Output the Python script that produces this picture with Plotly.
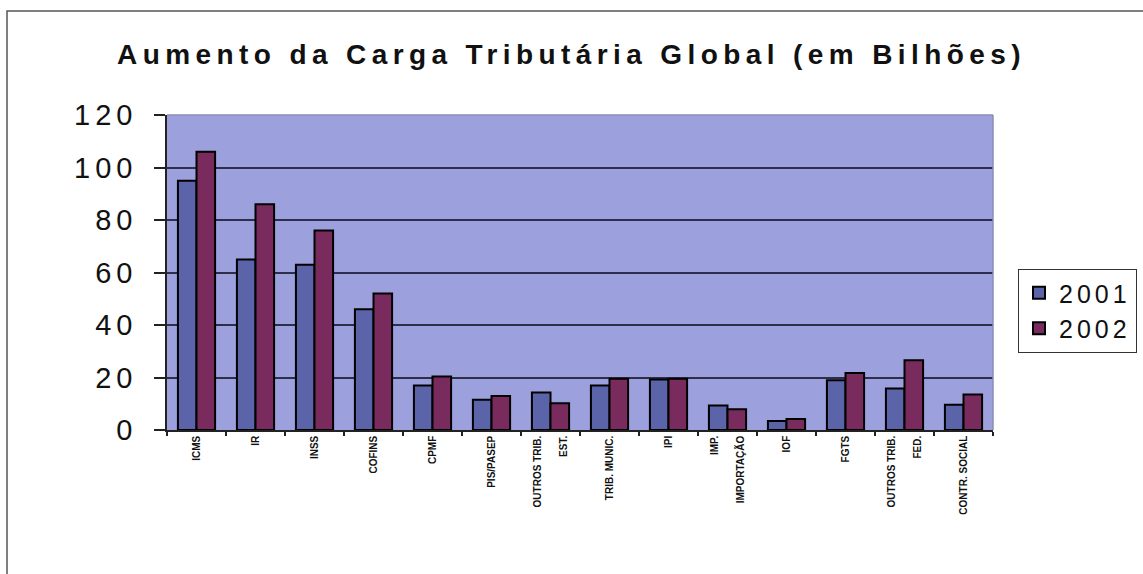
import plotly.graph_objects as go

categories = ["ICMS", "IR", "INSS", "COFINS", "CPMF", "PIS/PASEP",
              "OUTROS TRIB.<br><br>EST.", "TRIB. MUNIC.", "IPI",
              "IMP.<br><br>IMPORTAÇÃO", "IOF", "FGTS",
              "OUTROS TRIB.<br><br>FED.", "CONTR. SOCIAL"]
values_2001 = [95, 65, 63, 46, 17, 11.5, 14.3, 17, 19.2, 9.3, 3.4, 19, 15.8, 9.6]
values_2002 = [106, 86, 76, 52, 20.4, 13, 10.2, 19.5, 19.5, 7.9, 4.2, 21.7, 26.6, 13.5]
series_names = ["2001", "2002"]
y_ticks = [0, 20, 40, 60, 80, 100, 120]
title_text = "Aumento da Carga Tributária Global (em Bilhões)"

W, H = 1143, 574
L, R, T, B = 167, 150, 115, 144
pw, ph = W - L - R, H - T - B

FONT = "Arial, Liberation Sans, sans-serif"

fig = go.Figure()
fig.add_trace(go.Bar(name=series_names[0], x=categories, y=values_2001,
                     marker=dict(color="#5c64a9", line=dict(color="#000000", width=2))))
fig.add_trace(go.Bar(name=series_names[1], x=categories, y=values_2002,
                     marker=dict(color="#7a2b5d", line=dict(color="#000000", width=2))))


def px_x(p):
    return (p - L) / pw


def px_y(p):
    return (H - B - p) / ph


shapes = [
    dict(type="rect", xref="paper", yref="paper",
         x0=px_x(7), x1=px_x(W + 20), y0=px_y(H + 20), y1=px_y(11),
         line=dict(color="#555555", width=1.5), fillcolor="rgba(0,0,0,0)", layer="below"),
    dict(type="line", xref="paper", yref="paper", x0=0, x1=1, y0=1, y1=1,
         line=dict(color="#8c8cb8", width=1.5)),
    dict(type="line", xref="paper", yref="paper", x0=1, x1=1, y0=0, y1=1,
         line=dict(color="#8c8cb8", width=1.5)),
]

fig.update_layout(
    width=W, height=H,
    margin=dict(l=L, r=R, t=T, b=B, autoexpand=False),
    paper_bgcolor="#ffffff",
    plot_bgcolor="#9ca0dc",
    barmode="group", bargap=0.37, bargroupgap=0,
    title=dict(text=title_text, x=0.5, xanchor="center", y=1 - 54 / H, yanchor="middle",
               font=dict(family=FONT, size=28, color="#111111", weight="bold")),
    font=dict(family=FONT, color="#111111"),
    showlegend=True,
    legend=dict(x=px_x(1018), xanchor="left", y=px_y(311), yanchor="middle",
                bgcolor="#ffffff", bordercolor="#333333", borderwidth=1,
                font=dict(family=FONT, size=25, color="#111111"),
                itemwidth=30, tracegroupgap=0),
    shapes=shapes,
)

fig.update_xaxes(showline=True, linecolor="#222222", linewidth=1.5,
                 ticks="outside", ticklen=4, tickcolor="#222222", tickwidth=1.5,
                 tickson="boundaries", tickangle=-90,
                 tickfont=dict(family=FONT, size=10, color="#111111", weight="bold"),
                 showgrid=False)
fig.update_yaxes(range=[0, 120], tickvals=y_ticks, showline=True, linecolor="#222222",
                 linewidth=1.5, ticks="outside", ticklen=11, tickcolor="#222222",
                 tickwidth=1.5, showgrid=True, gridcolor="#2e2e4a", gridwidth=1.5,
                 zeroline=False, ticklabelstandoff=11,
                 tickfont=dict(family=FONT, size=29, color="#111111"))

post = """
var gd = document.getElementById('{plot_id}');
var st = document.createElement('style');
st.textContent = 'html,body{margin:0;padding:0;} .gtitle{letter-spacing:5.4px;} .ytick text{letter-spacing:5px;} .legendtext{letter-spacing:4px;}';
document.head.appendChild(st);
Plotly.relayout(gd, {'legend.font.size': 25.01});
"""

fig.write_html("out.html", config={"displayModeBar": False}, post_script=post)
